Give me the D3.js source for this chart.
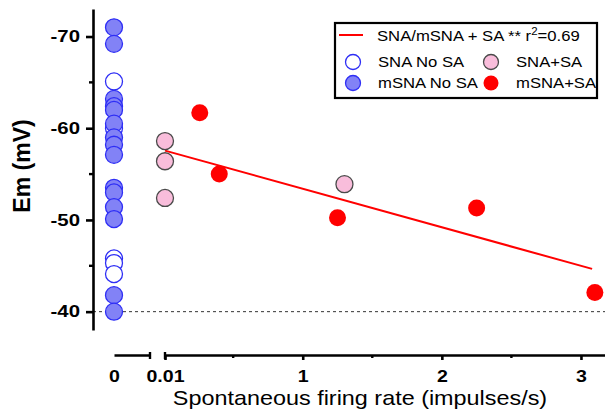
<!DOCTYPE html>
<html>
<head>
<meta charset="utf-8">
<script src="https://cdn.jsdelivr.net/npm/d3@7"></script>
<style>
  body { margin: 0; background: #fff; }
  svg { display: block; font-family: Arial, "Liberation Sans", sans-serif; }
</style>
</head>
<body>
<div id="chart"></div>
<script>
let width = 605
let height = 419

// Data
let snaNoSaEm = [-65.1, -60.0, -45.8, -45.3, -44.1]
let msnaNoSaEm = [-71.0, -69.2, -63.2, -62.4, -62.0, -60.5, -59.0, -58.2, -57.1, -53.5, -53.0, -51.4, -50.1, -41.8, -40.0]
let snaSaRate = [0.01, 0.01, 0.01, 1.30]
let snaSaEm = [-58.6, -56.4, -52.4, -53.9]
let msnaSaRate = [0.26, 0.40, 1.25, 2.25, 3.10]
let msnaSaEm = [-61.7, -55.0, -50.25, -51.3, -42.1]
let fitRange = [0.01, 3.08]
let fitIntercept = -57.6
let fitSlope = 4.2
let yTicks = [-70, -60, -50, -40]
let yMinorTicks = [-65, -55, -45]
let xTicks = [0.01, 1, 2, 3]
let xMinorTicks = [0.5, 1.5, 2.5]
let xTickLabels = ["0.01", "1", "2", "3"]

let blueFill = "#8282f6"
let blueStroke = "#2e2ef5"
let pinkFill = "#f9bddb"
let pinkStroke = "#4a4a4a"
let red = "#ff0000"
let r = 8.5
let tickFont = 16.3

let svg = d3.select("#chart").append("svg")
	.attr("width", width)
	.attr("height", height)

let y = d3.scaleLinear().domain([-73, -38]).range([9, 330])
let xZero = d3.scaleLinear().domain([0, 0.25]).range([114, 150])
let x = d3.scaleLinear().domain([0.01, 3.18]).range([165, 606])
let axisY = 355

// stretch text horizontally to match the wide-looking lettering
let stretch = (sel, sx) => sel.each(function() {
	let t = d3.select(this)
	let x0 = +t.attr("x") || 0
	t.attr("x", x0 / sx).attr("transform", "scale(" + sx + ",1)")
})

let styleTicks = (sel) => sel
	.attr("font-size", tickFont).attr("font-weight", "bold").attr("fill", "#000")
	.attr("font-family", "Arial, 'Liberation Sans', sans-serif")

// dotted reference line at -40
svg.append("line")
	.attr("x1", 93).attr("x2", width)
	.attr("y1", y(-40)).attr("y2", y(-40))
	.attr("stroke", "#333").attr("stroke-width", 1)
	.attr("stroke-dasharray", "3,3")

// Y axis
let gy = svg.append("g")
	.attr("transform", "translate(93,0)")
	.call(d3.axisLeft(y).tickValues(yTicks).tickSize(7).tickSizeOuter(0).tickPadding(6)
		.tickFormat(d => String(d)))
gy.select(".domain").attr("stroke-width", 2.6)
gy.selectAll(".tick line").attr("stroke-width", 2.6)
styleTicks(gy.selectAll(".tick text"))
stretch(gy.selectAll(".tick text"), 1.25)
gy.selectAll(".minor")
	.data(yMinorTicks)
	.enter()
	.append("line")
	.attr("x1", -4).attr("x2", 0)
	.attr("y1", d => y(d)).attr("y2", d => y(d))
	.attr("stroke", "#000").attr("stroke-width", 2.4)

// X axis, left piece (zero)
let gx0 = svg.append("g")
	.attr("transform", "translate(0," + axisY + ")")
	.call(d3.axisBottom(xZero).tickValues([0]).tickSize(0).tickSizeOuter(0)
		.tickFormat(d => String(d)))
gx0.select(".domain").attr("stroke-width", 2.6)
styleTicks(gx0.selectAll(".tick text").attr("y", 27).attr("dy", 0))
stretch(gx0.selectAll(".tick text"), 1.2)

// X axis, right piece
let gx = svg.append("g")
	.attr("transform", "translate(0," + axisY + ")")
	.call(d3.axisBottom(x).tickValues(xTicks).tickSize(5).tickSizeOuter(0)
		.tickFormat((d, i) => xTickLabels[i]))
gx.select(".domain").attr("stroke-width", 2.6)
gx.selectAll(".tick line").attr("stroke-width", 2.6)
styleTicks(gx.selectAll(".tick text").attr("y", 27).attr("dy", 0))
stretch(gx.selectAll(".tick text"), 1.2)
gx.selectAll(".minor")
	.data(xMinorTicks)
	.enter()
	.append("line")
	.attr("x1", d => x(d)).attr("x2", d => x(d))
	.attr("y1", 0).attr("y2", 3)
	.attr("stroke", "#000").attr("stroke-width", 2.4)

// break marks
let breaks = [xZero.range()[1], x.range()[0]]
svg.selectAll(".break")
	.data(breaks)
	.enter()
	.append("line")
	.attr("x1", d => d).attr("x2", d => d)
	.attr("y1", axisY - 3).attr("y2", axisY + 4)
	.attr("stroke", "#000").attr("stroke-width", 2.4)

// axis titles
svg.append("text")
	.attr("transform", "translate(30,166) rotate(-90)")
	.attr("text-anchor", "middle")
	.attr("font-size", 23).attr("font-weight", "bold")
	.text("Em (mV)")

let xt = svg.append("g").attr("transform", "translate(360,405)")
xt.append("text")
	.attr("text-anchor", "middle")
	.attr("font-size", 20)
	.text("Spontaneous firing rate (impulses/s)")
stretch(xt.selectAll("text"), 1.17)

// points at zero: open ones behind the filled ones
svg.selectAll(".snaNoSa")
	.data(snaNoSaEm)
	.enter()
	.append("circle")
	.attr("cx", xZero(0)).attr("cy", d => y(d)).attr("r", r)
	.attr("fill", "#fff").attr("stroke", blueStroke).attr("stroke-width", 1.3)

svg.selectAll(".msnaNoSa")
	.data(msnaNoSaEm)
	.enter()
	.append("circle")
	.attr("cx", xZero(0)).attr("cy", d => y(d)).attr("r", r)
	.attr("fill", blueFill).attr("stroke", blueStroke).attr("stroke-width", 1.3)

// regression line
let fit = d3.line()
	.x(d => x(d))
	.y(d => y(fitIntercept + fitSlope * d))
svg.append("path")
	.datum(fitRange)
	.attr("d", fit)
	.attr("fill", "none").attr("stroke", red).attr("stroke-width", 2)

svg.selectAll(".snaSa")
	.data(snaSaRate.map((v, i) => [v, snaSaEm[i]]))
	.enter()
	.append("circle")
	.attr("cx", d => x(d[0])).attr("cy", d => y(d[1])).attr("r", r)
	.attr("fill", pinkFill).attr("stroke", pinkStroke).attr("stroke-width", 1.3)

svg.selectAll(".msnaSa")
	.data(msnaSaRate.map((v, i) => [v, msnaSaEm[i]]))
	.enter()
	.append("circle")
	.attr("cx", d => x(d[0])).attr("cy", d => y(d[1])).attr("r", r)
	.attr("fill", red)

// legend
let legend = svg.append("g")
legend.append("rect")
	.attr("x", 335).attr("y", 23).attr("width", 262).attr("height", 75)
	.attr("fill", "#fff").attr("stroke", "#000").attr("stroke-width", 2.2)
legend.append("line")
	.attr("x1", 339).attr("x2", 363).attr("y1", 35).attr("y2", 35)
	.attr("stroke", red).attr("stroke-width", 2)

let addLabel = (lx, ly, t) => {
	let g = legend.append("g").attr("transform", "translate(" + lx + "," + ly + ")")
	let txt = g.append("text").attr("font-size", 14.5).text(t)
	stretch(g.selectAll("text"), 1.15)
	return txt
}
let fitLabel = addLabel(377, 41, "SNA/mSNA + SA ** r")
fitLabel.append("tspan").attr("dy", -6).attr("font-size", 10).text("2")
fitLabel.append("tspan").attr("dy", 6).text("=0.69")

let legendItems = [
	{ cx: 353, cy: 62, fill: "#fff", stroke: blueStroke, label: "SNA No SA" },
	{ cx: 491, cy: 62, fill: pinkFill, stroke: pinkStroke, label: "SNA+SA" },
	{ cx: 353, cy: 83, fill: blueFill, stroke: blueStroke, label: "mSNA No SA" },
	{ cx: 491, cy: 83, fill: red, stroke: "none", label: "mSNA+SA" }
]
legendItems.forEach(d => {
	legend.append("circle")
		.attr("cx", d.cx).attr("cy", d.cy).attr("r", 7.5)
		.attr("fill", d.fill).attr("stroke", d.stroke).attr("stroke-width", 1.3)
	addLabel(d.cx + 25, d.cy + 5, d.label)
})
</script>
</body>
</html>
